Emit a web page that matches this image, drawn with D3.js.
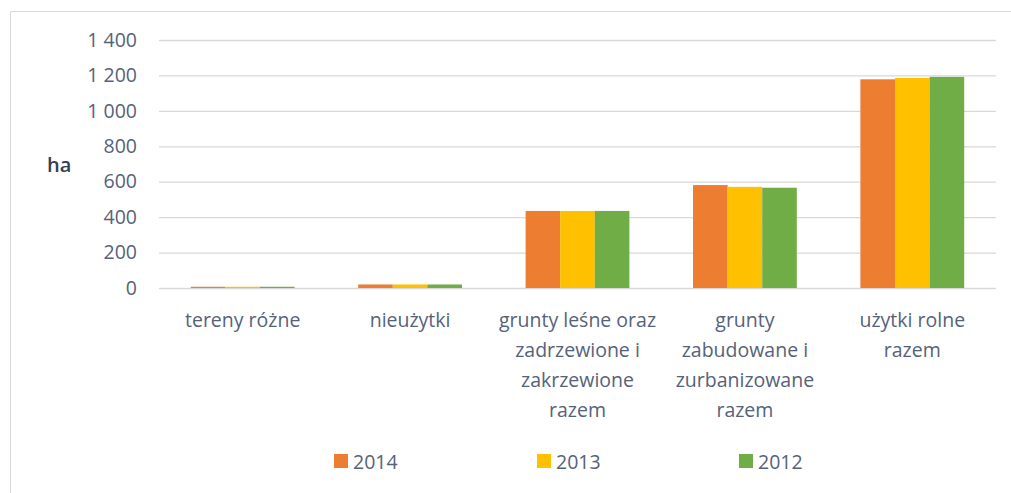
<!DOCTYPE html>
<html>
<head>
<meta charset="utf-8">
<script src="https://cdn.jsdelivr.net/npm/d3@7"></script>
<style>
  html, body { margin: 0; padding: 0; background: #fff; }
  svg { display: block; font-family: "Open Sans", Lato, sans-serif; }
</style>
</head>
<body>
<svg id="chart" width="1011" height="493"></svg>
<script>
// Land use categories (ha)
const categories = [
  "tereny różne",
  "nieużytki",
  "grunty leśne oraz zadrzewione i zakrzewione razem",
  "grunty zabudowane i zurbanizowane razem",
  "użytki rolne razem"
];
const categoryLines = [
  ["tereny różne"],
  ["nieużytki"],
  ["grunty leśne oraz", "zadrzewione i", "zakrzewione", "razem"],
  ["grunty", "zabudowane i", "zurbanizowane", "razem"],
  ["użytki rolne", "razem"]
];
const years = ["2014", "2013", "2012"];
const values2014 = [7, 20, 435, 581, 1178];
const values2013 = [7, 20, 435, 571, 1186];
const values2012 = [7, 20, 435, 566, 1192];
const yTicks = [0, 200, 400, 600, 800, 1000, 1200, 1400];
const yearColors = ["#ED7D31", "#FFC000", "#70AD47"];

const series = [values2014, values2013, values2012];

const svg = d3.select("#chart");
const textColor = "#56627a";
const fontSize = "19.5px";

// chart frame (top and left edges)
svg.append("line").attr("x1", 10.5).attr("x2", 1011).attr("y1", 11.5).attr("y2", 11.5)
  .attr("stroke", "#d9d9d9").attr("stroke-width", 1);
svg.append("line").attr("x1", 10.5).attr("x2", 10.5).attr("y1", 11.5).attr("y2", 493)
  .attr("stroke", "#d9d9d9").attr("stroke-width", 1);

const x0 = d3.scaleBand().domain(categories).range([159, 996]).paddingInner(0.38).paddingOuter(0.19);
const x1 = d3.scaleBand().domain(years).range([0, x0.bandwidth()]);
const y = d3.scaleLinear().domain([0, 1400]).range([288, 40]);

const fmt = v => d3.format(",")(v).replace(/,/g, " ");

// gridlines
svg.append("g")
  .attr("transform", "translate(159,0)")
  .call(d3.axisLeft(y).tickValues(yTicks).tickSize(-(996 - 159)).tickFormat(""))
  .call(g => g.select(".domain").remove())
  .call(g => g.selectAll(".tick line").attr("stroke", "#d9d9d9").attr("stroke-width", 1.3));

// y tick labels
svg.append("g")
  .attr("transform", "translate(137,0)")
  .call(d3.axisLeft(y).tickValues(yTicks).tickSize(0).tickPadding(0).tickFormat(fmt))
  .call(g => g.select(".domain").remove())
  .call(g => g.selectAll("text")
    .attr("fill", textColor).attr("font-size", fontSize)
    .attr("font-family", "'Open Sans', Lato, sans-serif"));

// y axis title
svg.append("text").attr("x", 47).attr("y", 172).text("ha")
  .attr("fill", "#333f50").attr("font-size", "20px").attr("font-weight", 600);

// bars
const groups = svg.append("g").selectAll("g")
  .data(categories).join("g")
  .attr("transform", d => `translate(${x0(d)},0)`);

groups.selectAll("rect")
  .data((d, i) => years.map((yr, j) => ({ yr, v: series[j][i], c: yearColors[j] })))
  .join("rect")
  .attr("x", d => x1(d.yr))
  .attr("width", x1.bandwidth())
  .attr("y", d => y(d.v))
  .attr("height", d => y(0) - y(d.v))
  .attr("fill", d => d.c);

// category labels
const labels = svg.append("g").selectAll("text")
  .data(categories).join("text")
  .attr("x", d => x0(d) + x0.bandwidth() / 2)
  .attr("y", 327)
  .attr("text-anchor", "middle")
  .attr("fill", textColor).attr("font-size", fontSize);
labels.selectAll("tspan")
  .data((d, i) => categoryLines[i])
  .join("tspan")
  .attr("x", function () { return this.parentNode.getAttribute("x"); })
  .attr("dy", (d, i) => i === 0 ? 0 : 30)
  .text(d => d);

// legend
const legendX = [334, 537, 739];
const legend = svg.append("g").selectAll("g")
  .data(years).join("g")
  .attr("transform", (d, i) => `translate(${legendX[i]},454)`);
legend.append("rect").attr("width", 14).attr("height", 14)
  .attr("fill", (d, i) => yearColors[i]);
legend.append("text").attr("x", 19).attr("y", 14.5).text(d => d)
  .attr("fill", textColor).attr("font-size", fontSize);
</script>
</body>
</html>
